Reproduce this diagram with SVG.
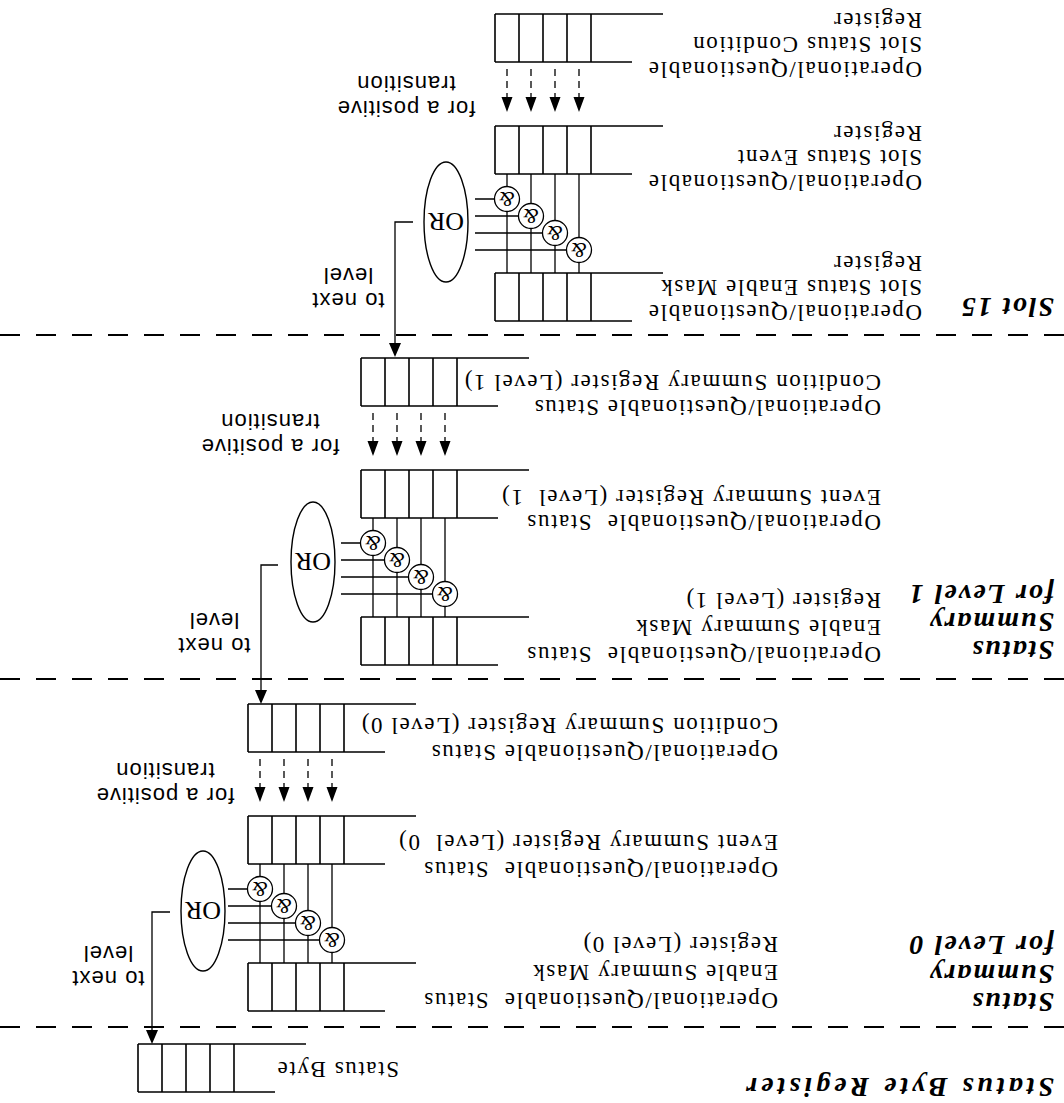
<svg xmlns="http://www.w3.org/2000/svg" width="1064" height="1103" viewBox="0 0 1064 1103">
<style>
.lbl{font-family:"Liberation Serif","Times New Roman",serif;font-size:23px;letter-spacing:1.6px;fill:#000;white-space:pre}
.hd{font-family:"Liberation Serif","Times New Roman",serif;font-size:28px;font-weight:bold;font-style:italic;letter-spacing:2px;fill:#000}
.sans{font-family:"Liberation Sans",Arial,sans-serif;font-size:22px;letter-spacing:1px;text-anchor:middle;fill:#000}
.or{font-family:"Liberation Serif","Times New Roman",serif;font-size:26px;text-anchor:middle;fill:#000}
.amp{font-family:"Liberation Serif","Times New Roman",serif;font-style:italic;font-size:20px;text-anchor:middle;fill:#000}
.reg{fill:none;stroke:#000;stroke-width:1.6}
.sep{fill:none;stroke:#000;stroke-width:2;stroke-dasharray:20 16}
.wire{fill:none;stroke:#000;stroke-width:1.3}
.dsh{fill:none;stroke:#000;stroke-width:1.3;stroke-dasharray:7 5}
.gate{fill:#fff;stroke:#000;stroke-width:1.3}
.head{fill:#000;stroke:none}
.ell{fill:#fff;stroke:#000;stroke-width:1.4}
</style>
<defs>
<path id="reg" class="reg" d="M-72 48H96M-41 0H96M0 0V48M24 0V48M48 0V48M72 0V48M96 0V48"/>
<g id="pos">
<path class="dsh" d="M12 -7V-36M36 -7V-36M60 -7V-36M84 -7V-36"/>
<path class="head" d="M6.5 -35H17.5L12 -50ZM30.5 -35H41.5L36 -50ZM54.5 -35H65.5L60 -50ZM78.5 -35H89.5L84 -50Z"/>
</g>
<g id="gates">
<path class="wire" d="M12 0V-99M36 0V-99M60 0V-99M84 0V-99M96 -25H116M72 -42H116M48 -59H116M24 -76H116"/>
<circle class="gate" cx="84" cy="-25" r="12.5"/><circle class="gate" cx="60" cy="-42" r="12.5"/>
<circle class="gate" cx="36" cy="-59" r="12.5"/><circle class="gate" cx="12" cy="-76" r="12.5"/>
<text class="amp" x="84" y="-18">&amp;</text><text class="amp" x="60" y="-35">&amp;</text>
<text class="amp" x="36" y="-52">&amp;</text><text class="amp" x="12" y="-69">&amp;</text>
</g>
</defs>
<rect width="1064" height="1103" fill="#fff"/>
<g transform="rotate(180 532 551.5)">
<g id="separators">
<path class="sep" d="M0 768H1064M0 424H1064M0 76H1064"/>
</g>
<g id="headings">
<text class="hd" x="10" y="805">Slot 15</text>
<text class="hd" x="10" y="462">Status</text>
<text class="hd" x="10" y="490">Summary</text>
<text class="hd" x="10" y="518">for Level 1</text>
<text class="hd" x="10" y="110">Status</text>
<text class="hd" x="10" y="138">Summary</text>
<text class="hd" x="10" y="167">for Level 0</text>
<text class="hd" x="10" y="25" style="letter-spacing:4px">Status Byte Register</text>
</g>
<g id="slot15-condition"><use href="#reg" x="473" y="1041"/>
<text class="lbl" x="142" y="1041">Operational/Questionable</text>
<text class="lbl" x="142" y="1066">Slot Status Condition</text>
<text class="lbl" x="142" y="1090">Register</text></g>
<g id="slot15-event"><use href="#reg" x="473" y="929"/>
<text class="lbl" x="142" y="928">Operational/Questionable</text>
<text class="lbl" x="142" y="953">Slot Status Event</text>
<text class="lbl" x="142" y="977">Register</text></g>
<g id="slot15-mask"><use href="#reg" x="473" y="782"/>
<text class="lbl" x="142" y="798">Operational/Questionable</text>
<text class="lbl" x="142" y="823">Slot Status Enable Mask</text>
<text class="lbl" x="142" y="847">Register</text></g>
<g id="slot15-gates"><use href="#gates" x="473" y="929"/>
<ellipse class="ell" cx="618" cy="881" rx="22" ry="60"/><text class="or" x="618" y="890">OR</text></g>
<g id="slot15-transition"><use href="#pos" x="473" y="1041"/>
<text class="sans" x="658" y="1002">for a positive</text>
<text class="sans" x="658" y="1027">transition</text></g>

<g id="l1-condition"><use href="#reg" x="607" y="697"/>
<text class="lbl" x="183" y="703">Operational/Questionable Status</text>
<text class="lbl" x="183" y="728">Condition Summary Register (Level 1)</text></g>
<g id="l1-event"><use href="#reg" x="607" y="585"/>
<text class="lbl" x="183" y="588">Operational/Questionable  Status</text>
<text class="lbl" x="183" y="613">Event Summary Register (Level  1)</text></g>
<g id="l1-mask"><use href="#reg" x="607" y="438"/>
<text class="lbl" x="183" y="456">Operational/Questionable  Status</text>
<text class="lbl" x="183" y="483">Enable Summary Mask</text>
<text class="lbl" x="183" y="510">Register (Level 1)</text></g>
<g id="l1-gates"><use href="#gates" x="607" y="585"/>
<ellipse class="ell" cx="751" cy="541" rx="22" ry="60"/><text class="or" x="751" y="550">OR</text></g>
<g id="l1-transition"><use href="#pos" x="607" y="697"/>
<text class="sans" x="794" y="664">for a positive</text>
<text class="sans" x="794" y="689">transition</text></g>

<g id="l0-condition"><use href="#reg" x="720" y="351"/>
<text class="lbl" x="286" y="358">Operational/Questionable Status</text>
<text class="lbl" x="286" y="385">Condition Summary Register (Level 0)</text></g>
<g id="l0-event"><use href="#reg" x="720" y="239"/>
<text class="lbl" x="286" y="241">Operational/Questionable  Status</text>
<text class="lbl" x="286" y="268">Event Summary Register (Level  0)</text></g>
<g id="l0-mask"><use href="#reg" x="720" y="92"/>
<text class="lbl" x="286" y="110">Operational/Questionable  Status</text>
<text class="lbl" x="286" y="138">Enable Summary Mask</text>
<text class="lbl" x="286" y="166">Register (Level 0)</text></g>
<g id="l0-gates"><use href="#gates" x="720" y="239"/>
<ellipse class="ell" cx="861" cy="192" rx="22" ry="60"/><text class="or" x="861" y="201">OR</text></g>
<g id="l0-transition"><use href="#pos" x="720" y="351"/>
<text class="sans" x="899" y="315">for a positive</text>
<text class="sans" x="899" y="340">transition</text></g>

<g id="status-byte"><use href="#reg" x="830" y="11"/>
<text class="lbl" x="665" y="41">Status Byte</text></g>

<g id="connectors">
<path class="wire" d="M651 881H669V760M786 538H803V413M894 191H912V73"/>
<path class="head" d="M663 760H675L669 746ZM797 413H809L803 399ZM906 73H918L912 59Z"/>
<text class="sans" x="716" y="810">to next</text>
<text class="sans" x="716" y="835">level</text>
<text class="sans" x="850" y="465">to next</text>
<text class="sans" x="850" y="490">level</text>
<text class="sans" x="956" y="132">to next</text>
<text class="sans" x="956" y="157">level</text>
</g>
</g>
</svg>
